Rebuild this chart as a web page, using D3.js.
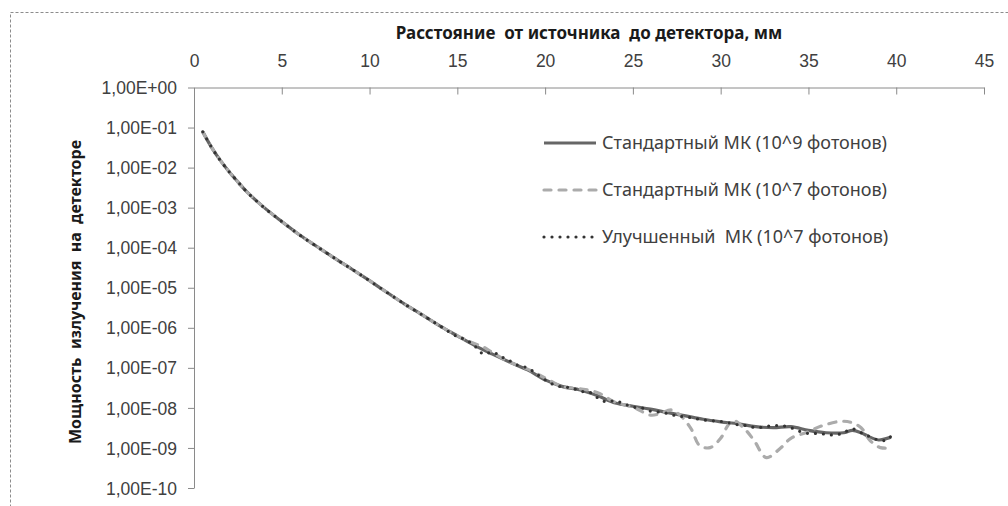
<!DOCTYPE html>
<html>
<head>
<meta charset="utf-8">
<script src="https://cdn.jsdelivr.net/npm/d3@7"></script>
<style>
  body { margin: 0; background: #fff; }
  svg { display: block; font-family: "Noto Sans", sans-serif; }
  .tick text { fill: #404040; font-size: 17.5px; }
  .domain, .tick line { stroke: #8a8a8a; }
</style>
</head>
<body>
<svg id="chart" width="1008" height="506"></svg>
<script>
// distance from source to detector, mm
const xStdHigh = [0.5, 1, 1.5, 2, 2.5, 3, 4, 5, 6, 7, 8, 9, 10, 11, 12, 13, 14, 15, 16, 17, 18, 19, 20,
  21, 22, 23, 24, 25, 26, 27, 28, 29, 30, 31, 32, 33, 34, 35, 36, 37, 37.5, 38, 38.5, 39, 39.7];
const yStdHigh = [7.8e-2, 3.2e-2, 1.51e-2, 7.9e-3, 4.4e-3, 2.5e-3, 1.0e-3, 4.5e-4, 2.1e-4, 1.07e-4, 5.5e-5,
  2.9e-5, 1.5e-5, 7.6e-6, 3.9e-6, 2.1e-6, 1.12e-6, 6.3e-7, 3.6e-7, 2.2e-7, 1.38e-7, 8.9e-8, 5.0e-8,
  3.4e-8, 2.8e-8, 2.0e-8, 1.32e-8, 1.1e-8, 9.3e-9, 7.6e-9, 6.3e-9, 5.2e-9, 4.5e-9, 4.0e-9, 3.4e-9,
  3.2e-9, 3.4e-9, 2.75e-9, 2.4e-9, 2.4e-9, 2.75e-9, 2.4e-9, 1.86e-9, 1.58e-9, 1.86e-9];

const xStdLow = [0.5, 1, 1.5, 2, 2.5, 3, 4, 5, 6, 7, 8, 9, 10, 11, 12, 13, 14, 15, 16, 16.5, 17, 18, 19, 20,
  21, 22, 23, 24, 25, 26, 26.5, 27.2, 27.7, 28.3, 28.8, 29.4, 30, 30.4, 30.7, 31.3, 31.9, 32.6, 33.4,
  34, 34.9, 35.8, 36.8, 37.4, 38, 38.5, 39.1, 39.8];
const yStdLow = [7.8e-2, 3.2e-2, 1.51e-2, 7.9e-3, 4.4e-3, 2.5e-3, 1.0e-3, 4.5e-4, 2.1e-4, 1.07e-4, 5.5e-5,
  2.9e-5, 1.5e-5, 7.6e-6, 3.9e-6, 2.1e-6, 1.12e-6, 6.3e-7, 4.0e-7, 3.3e-7, 2.4e-7, 1.38e-7, 9.3e-8,
  5.6e-8, 3.4e-8, 3.0e-8, 2.4e-8, 1.38e-8, 1.05e-8, 6.6e-9, 7.1e-9, 8.9e-9, 6.5e-9, 3.1e-9, 1.15e-9,
  1.02e-9, 1.74e-9, 3.6e-9, 4.9e-9, 3.2e-9, 1.55e-9, 5.75e-10, 9.8e-10, 1.74e-9, 2.45e-9, 3.6e-9,
  4.6e-9, 4.4e-9, 3.2e-9, 1.55e-9, 1.02e-9, 1.02e-9];

const xImproved = [0.5, 1, 1.5, 2, 2.5, 3, 4, 5, 6, 7, 8, 9, 10, 11, 12, 13, 14, 15, 15.5, 16, 16.5, 17,
  17.5, 18, 18.5, 19, 19.5, 20, 20.5, 21, 21.5, 22, 22.5, 23, 23.5, 24, 24.5, 25, 25.5, 26, 26.5, 27,
  27.5, 28, 28.5, 29, 29.5, 30, 30.5, 31, 31.5, 32, 32.5, 33, 33.5, 34, 34.5, 35, 35.5, 36, 36.5, 37,
  37.5, 38, 38.5, 39, 39.5, 39.7];
const yImproved = [7.8e-2, 3.2e-2, 1.51e-2, 7.9e-3, 4.4e-3, 2.5e-3, 1.0e-3, 4.5e-4, 2.1e-4, 1.07e-4, 5.5e-5,
  2.9e-5, 1.5e-5, 7.6e-6, 3.9e-6, 2.1e-6, 1.12e-6, 6.0e-7, 5.0e-7, 3.5e-7, 2.2e-7, 2.5e-7, 1.9e-7,
  1.48e-7, 1.12e-7, 1.0e-7, 7.1e-8, 5.0e-8, 3.8e-8, 3.3e-8, 3.2e-8, 2.6e-8, 2.5e-8, 1.78e-8, 1.41e-8,
  1.51e-8, 1.26e-8, 1.05e-8, 1.0e-8, 8.3e-9, 7.9e-9, 7.2e-9, 6.3e-9, 6.0e-9, 5.5e-9, 5.0e-9, 4.8e-9,
  4.6e-9, 4.2e-9, 3.8e-9, 3.6e-9, 3.2e-9, 3.4e-9, 3.6e-9, 3.6e-9, 3.2e-9, 2.6e-9, 2.3e-9, 2.3e-9,
  2.2e-9, 2.1e-9, 2.4e-9, 3.0e-9, 2.4e-9, 1.9e-9, 1.58e-9, 1.58e-9, 2.0e-9];

const seriesNames = ['Стандартный МК (10^9 фотонов)', 'Стандартный МК (10^7 фотонов)', 'Улучшенный  МК (10^7 фотонов)'];
const xTicks = [0, 5, 10, 15, 20, 25, 30, 35, 40, 45];
const yTicks = [1, 1e-1, 1e-2, 1e-3, 1e-4, 1e-5, 1e-6, 1e-7, 1e-8, 1e-9, 1e-10];
const xTitle = 'Расстояние  от источника  до детектора, мм';
const yTitle = 'Мощность  излучения  на  детекторе';

const svg = d3.select('#chart');

// dashed chart frame, runs off the bottom/right like the screenshot
svg.append('rect')
  .attr('x', 10.5).attr('y', 12.5)
  .attr('width', 1010).attr('height', 510)
  .attr('fill', 'none').attr('stroke', '#8c8c8c')
  .attr('stroke-dasharray', '3,2');

const x = d3.scaleLinear().domain([0, 45]).range([194, 984]);
const y = d3.scaleLog().domain([1e-10, 1]).range([488, 87.5]);

const fmtExp = function (v) {
  const e = Math.round(Math.log10(v));
  return '1,00E' + (e < 0 ? '-' : '+') + String(Math.abs(e)).padStart(2, '0');
};

svg.append('g')
  .attr('transform', `translate(0,${y(1)})`)
  .call(d3.axisTop(x).tickValues(xTicks).tickSize(-7).tickSizeOuter(0).tickPadding(27));

svg.append('g')
  .attr('transform', `translate(${x(0)},0)`)
  .call(d3.axisLeft(y).tickValues(yTicks).tickFormat(fmtExp).tickSize(6).tickSizeOuter(0).tickPadding(11));

svg.selectAll('.tick text').attr('dy', '0.35em');

svg.append('text')
  .attr('x', (x(0) + x(45)) / 2).attr('y', 39)
  .attr('text-anchor', 'middle')
  .style('white-space', 'pre')
  .attr('font-weight', 'bold').attr('font-size', 17).attr('fill', '#1a1a1a')
  .text(xTitle);

svg.append('text')
  .attr('transform', 'translate(81,292) rotate(-90)')
  .attr('text-anchor', 'middle')
  .style('white-space', 'pre')
  .attr('font-weight', 'bold').attr('font-size', 16).attr('fill', '#1a1a1a')
  .text(yTitle);

const series = [
  { xs: xStdHigh, ys: yStdHigh, color: '#666666', width: 3.2, dash: null, cap: 'butt' },
  { xs: xStdLow, ys: yStdLow, color: '#ababab', width: 3.2, dash: '7,8', cap: 'round' },
  { xs: xImproved, ys: yImproved, color: '#333333', width: 3.2, dash: '0,8', cap: 'round' }
];

const line = d3.line()
  .x(d => x(d[0]))
  .y(d => y(d[1]))
  .curve(d3.curveCatmullRom.alpha(0.5));

series.forEach(function (s, i) {
  const pts = s.xs.map((v, k) => [v, s.ys[k]]);
  svg.append('path')
    .datum(pts)
    .attr('d', line)
    .attr('fill', 'none')
    .attr('stroke', s.color)
    .attr('stroke-width', s.width)
    .attr('stroke-linecap', s.cap)
    .attr('stroke-dasharray', s.dash);

  // legend
  const ly = 143 + i * 47;
  svg.append('line')
    .attr('x1', 544).attr('x2', 596).attr('y1', ly).attr('y2', ly)
    .attr('stroke', s.color).attr('stroke-width', s.width)
    .attr('stroke-linecap', s.cap).attr('stroke-dasharray', s.dash);
  svg.append('text')
    .attr('x', 602).attr('y', ly).attr('dy', '0.35em')
    .style('white-space', 'pre')
    .attr('font-size', 18).attr('fill', '#404040')
    .text(seriesNames[i]);
});
</script>
</body>
</html>
